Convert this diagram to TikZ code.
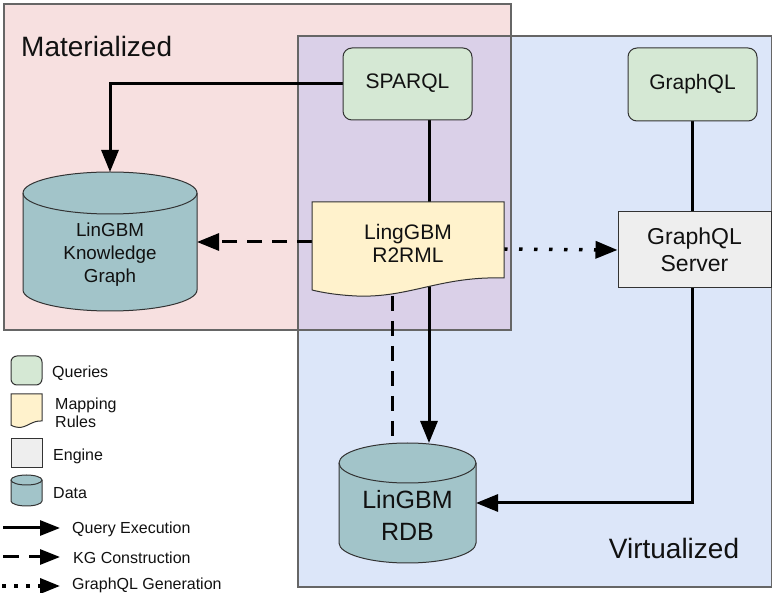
\documentclass[tikz,border=0pt]{standalone}
\usepackage{fontspec}
\setmainfont{Liberation Sans}
\usetikzlibrary{arrows.meta,calc}
\pgfdeclarelayer{regions}
\pgfdeclarelayer{edges}
\pgfsetlayers{regions,edges,main}

\definecolor{matfill}{HTML}{F7E0E0}
\definecolor{virtfill}{HTML}{DCE6F9}
\definecolor{bothfill}{HTML}{DAD0E8}
\definecolor{regionline}{HTML}{666666}
\definecolor{queryfill}{HTML}{D5E8D4}
\definecolor{mapfill}{HTML}{FFF2CC}
\definecolor{enginefill}{HTML}{EEEEEE}
\definecolor{datafill}{HTML}{A2C4C9}
\definecolor{inkline}{HTML}{333333}
\definecolor{ink}{HTML}{111111}

\tikzset{
  shapeline/.style={draw=inkline, line width=1pt},
  querybox/.style={shapeline, fill=queryfill, rounded corners=9pt, inner sep=0pt},
  enginebox/.style={shapeline, fill=enginefill, inner sep=0pt},
  datashape/.style={shapeline, fill=datafill},
  mapshape/.style={shapeline, fill=mapfill},
  frame/.style={inner sep=0pt, outer sep=0pt},
  txt/.style={inner sep=0pt, align=center, text=ink},
  big/.style={font=\fontsize{21}{23}\selectfont},
  legendtxt/.style={inner sep=0pt, anchor=west, align=left, text=ink,
    font=\fontsize{16}{18}\selectfont},
  regionbox/.style={draw=regionline, line width=1.2pt},
  tip/.style={-{Triangle[length=22pt,width=17pt]}},
  smalltip/.style={-{Triangle[length=20pt,width=15pt]}},
  execline/.style={line width=3pt, draw=black},
  kgline/.style={line width=3pt, draw=black, dash pattern=on 15pt off 10pt},
  genline/.style={line width=3.5pt, draw=black, dash pattern=on 3.5pt off 11.5pt},
}

% cylinder: centre x, top-ellipse y, bottom-ellipse y, x radius, y radius
\newcommand{\drumshape}[5]{%
  \filldraw[datashape] ({#1-#4},#2) -- ({#1-#4},#3)
     arc[start angle=180,end angle=0,x radius=#4,y radius=#5]
     -- ({#1+#4},#2)
     arc[start angle=0,end angle=-180,x radius=#4,y radius=#5] -- cycle;
  \draw[shapeline] ({#1-#4},#2) arc[start angle=180,end angle=0,x radius=#4,y radius=#5];
}

% document with wavy lower edge: left x, top y, width, height
\newcommand{\docshape}[4]{%
  \filldraw[mapshape] (#1,#2) -- ({#1+#3},#2) -- ({#1+#3},{#2+0.817*#4})
    .. controls ({#1+0.667*#3},{#2+0.796*#4}) and ({#1+0.510*#3},{#2+1.032*#4}) .. ({#1+0.234*#3},{#2+1.011*#4})
    .. controls ({#1+0.120*#3},{#2+1.0*#4}) and ({#1+0.042*#3},{#2+0.968*#4}) .. (#1,{#2+0.946*#4}) -- cycle;
}

\begin{document}
\begin{tikzpicture}[x=1pt,y=-1pt]
\useasboundingbox (0,0) rectangle (772,593);

% ---- regions ----
\begin{pgfonlayer}{regions}
  \fill[matfill] (4,4) rectangle (511,330);
  \fill[virtfill] (298,36) rectangle (772,587);
  \fill[bothfill] (298,36) rectangle (511,330);
  \draw[regionbox] (4,4) rectangle (511,330);
  \draw[regionbox] (298,36) rectangle (771.4,587);
\end{pgfonlayer}
\node[txt, anchor=west, font=\fontsize{28}{30}\selectfont] (matlabel) at (21,46) {Materialized};
\node[txt, font=\fontsize{28}{30}\selectfont] (virtlabel) at (674,548) {Virtualized};

% ---- queries and engine ----
\node[querybox, minimum width=129pt, minimum height=72pt, txt, big] (sparql) at (407.5,84) {\strut SPARQL};
\node[querybox, minimum width=129pt, minimum height=73pt, txt, big] (graphql) at (692.5,84.5) {\strut GraphQL};
\node[enginebox, minimum width=153pt, minimum height=76pt, txt,
      font=\fontsize{23}{27}\selectfont] (server) at (694.5,250) {GraphQL\\Server};

% ---- mapping document ----
\docshape{312}{202}{192}{93}
\node[frame, minimum width=192pt, minimum height=94pt] (r2rml) at (408,249) {};
\node[txt, big] (r2rmltext) at (408,243) {LingGBM\\R2RML};

% ---- data stores ----
\drumshape{110}{193}{290}{87}{21}
\node[frame, minimum width=174pt, minimum height=140pt] (kg) at (110,242) {};
\node[txt, font=\fontsize{18.8}{23}\selectfont] (kgtext) at (110,255) {LinGBM\\Knowledge\\Graph};

\drumshape{407.5}{463}{543}{68.5}{20}
\node[frame, minimum width=137pt, minimum height=120pt] (rdb) at (407.5,503) {};
\node[txt, font=\fontsize{25}{32}\selectfont] (rdbtext) at (407.5,515) {LinGBM\\RDB};

% ---- connectors ----
\coordinate (execx) at (429,0);
\coordinate (kgx) at (392,0);
\coordinate (srvx) at (692,0);
\begin{pgfonlayer}{edges}
  \draw[execline, tip] (sparql.west) -| (kg.north);
  \draw[execline, tip] (sparql.south -| execx) -- (rdb.north -| execx);
  \draw[kgline, tip] (r2rml.west |- kg.east) -- (kg.east);
  \draw[kgline] (r2rml.south -| kgx) -- (rdb.north -| kgx);
  \draw[genline, tip] (r2rml.east) -- (server.west);
  \draw[execline] (graphql.south -| srvx) -- (server.north -| srvx);
  \draw[execline, tip] (server.south -| srvx) |- (rdb.east);
\end{pgfonlayer}

% ---- legend ----
\node[querybox, minimum width=31pt, minimum height=29pt, rounded corners=6pt] (legq) at (26.5,370.5) {};
\node[legendtxt] (legqt) at (52,373) {Queries};
\docshape{11}{394}{31}{33}
\node[frame, minimum width=31pt, minimum height=33pt] (legm) at (26.5,410.5) {};
\node[legendtxt] (legmt) at (55,413) {Mapping\\Rules};
\node[enginebox, minimum width=31pt, minimum height=29pt] (lege) at (26.5,453.5) {};
\node[legendtxt] (leget) at (53,456) {Engine};
\drumshape{26.5}{480}{501}{15.5}{5}
\node[frame, minimum width=31pt, minimum height=31pt] (legd) at (26.5,490.5) {};
\node[legendtxt] (legdt) at (53,493) {Data};

\coordinate (l1a) at (3,528);  \coordinate (l1b) at (60,528);
\coordinate (l2a) at (3,557);  \coordinate (l2b) at (60,557);
\coordinate (l3a) at (2,586);  \coordinate (l3b) at (60,586);
\draw[execline, smalltip] (l1a) -- (l1b);
\draw[line width=3pt, dash pattern=on 16pt off 10pt, smalltip] (l2a) -- (l2b);
\draw[line width=3.5pt, dash pattern=on 3.5pt off 8.5pt, smalltip] (l3a) -- (l3b);
\node[legendtxt] (l1t) at (72,529) {Query Execution};
\node[legendtxt] (l2t) at (73,558) {KG Construction};
\node[legendtxt] (l3t) at (72,585.5) {GraphQL Generation};
\end{tikzpicture}
\end{document}
